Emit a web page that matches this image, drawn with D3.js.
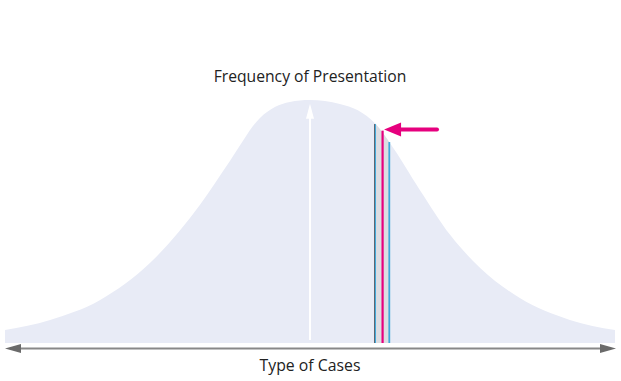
<!DOCTYPE html>
<html><head><meta charset="utf-8">
<script src="https://cdn.jsdelivr.net/npm/d3@7"></script>
<style>body{margin:0;background:#fff}svg{display:block}</style>
</head><body>
<svg id="c" width="621" height="381"></svg>
<script>
// Case type position (0..100) and frequency (0..100)
const caseType  = [0, 7.4, 15.6, 23.8, 32, 36.9, 41.8, 46.7, 50, 54.9, 60.8, 63.1, 68, 73, 77.9, 84.4, 92.6, 100];
const frequency = [5.3, 9.5, 17.7, 33, 57, 75, 92.6, 99.2, 100, 98.4, 90, 82.3, 63, 44.4, 30.9, 18.5, 9.5, 5.3];
// marker lines: position and top value
const markerPos = [60.66, 61.9, 63.0];
const markerTop = [90.1, 87.4, 82.7];
const peakPos = 50, peakTop = 98.5;
const arrowY = 87.9; // frequency level of magenta arrow
const titleTop = "Frequency of Presentation";
const titleBottom = "Type of Cases";

const svg = d3.select("#c");
const x = d3.scaleLinear().domain([0,100]).range([5,615]);
const y = d3.scaleLinear().domain([0,100]).range([343,100]);
const pts = caseType.map((c,i)=>({c, f:frequency[i]}));

const area = d3.area().x(d=>x(d.c)).y0(y(0)).y1(d=>y(d.f)).curve(d3.curveMonotoneX);
svg.append("defs").append("clipPath").attr("id","cl").append("path").attr("d",area(pts));
svg.append("path").attr("d",area(pts)).attr("fill","#e8ebf6");

// gray band between markers
svg.append("rect").attr("clip-path","url(#cl)")
  .attr("x",x(markerPos[0])).attr("width",x(markerPos[2])-x(markerPos[0]))
  .attr("y",y(100)).attr("height",y(0)-y(100)).attr("fill","#dcdde2");

// marker lines
svg.append("line").attr("x1",x(markerPos[0])-0.5).attr("x2",x(markerPos[0])-0.5)
  .attr("y1",y(markerTop[0])).attr("y2",y(0)).attr("stroke","#5b6470").attr("stroke-width",1);
svg.append("line").attr("x1",x(markerPos[0])+0.5).attr("x2",x(markerPos[0])+0.5)
  .attr("y1",y(markerTop[0])).attr("y2",y(0)).attr("stroke","#3fa9dc").attr("stroke-width",1);
svg.append("line").attr("x1",x(markerPos[1])).attr("x2",x(markerPos[1]))
  .attr("y1",y(markerTop[1])).attr("y2",y(0)).attr("stroke","#e6007e").attr("stroke-width",2.2);
svg.append("line").attr("x1",x(markerPos[2])).attr("x2",x(markerPos[2]))
  .attr("y1",y(markerTop[2])).attr("y2",y(0)).attr("stroke","#3ea8dc").attr("stroke-width",1.8);

// white peak arrow
const px = x(peakPos);
svg.append("line").attr("x1",px).attr("x2",px).attr("y1",y(0)-3).attr("y2",y(peakTop)+10)
  .attr("stroke","#fff").attr("stroke-width",2);
svg.append("path").attr("d",`M${px},${y(peakTop)} L${px-4},${y(peakTop)+15} L${px+4},${y(peakTop)+15}Z`).attr("fill","#fff");

// magenta arrow
const ay = y(arrowY), tipX = x(markerPos[1])+1.5;
svg.append("line").attr("x1",tipX+14).attr("x2",437).attr("y1",ay).attr("y2",ay)
  .attr("stroke","#e6007e").attr("stroke-width",4).attr("stroke-linecap","round");
svg.append("path").attr("d",`M${tipX},${ay} L${tipX+17},${ay-7} L${tipX+17},${ay+7}Z`).attr("fill","#e6007e");

// bottom axis with arrows
const axY = 348.5;
svg.append("line").attr("x1",x(0)+12).attr("x2",x(100)-12).attr("y1",axY).attr("y2",axY)
  .attr("stroke","#888").attr("stroke-width",2);
svg.append("path").attr("d",`M${x(0)},${axY} L${x(0)+16},${axY-4.5} L${x(0)+16},${axY+4.5}Z`).attr("fill","#6a6a6a");
svg.append("path").attr("d",`M${x(100)+1},${axY} L${x(100)-15},${axY-4.5} L${x(100)-15},${axY+4.5}Z`).attr("fill","#6a6a6a");

svg.append("text").attr("x",px).attr("y",82).attr("text-anchor","middle")
  .attr("font-family","Open Sans").attr("font-size",15.7).attr("fill","#222").text(titleTop);
svg.append("text").attr("x",px).attr("y",371).attr("text-anchor","middle")
  .attr("font-family","Open Sans").attr("font-size",15.8).attr("fill","#222").text(titleBottom);
</script>
</body></html>
